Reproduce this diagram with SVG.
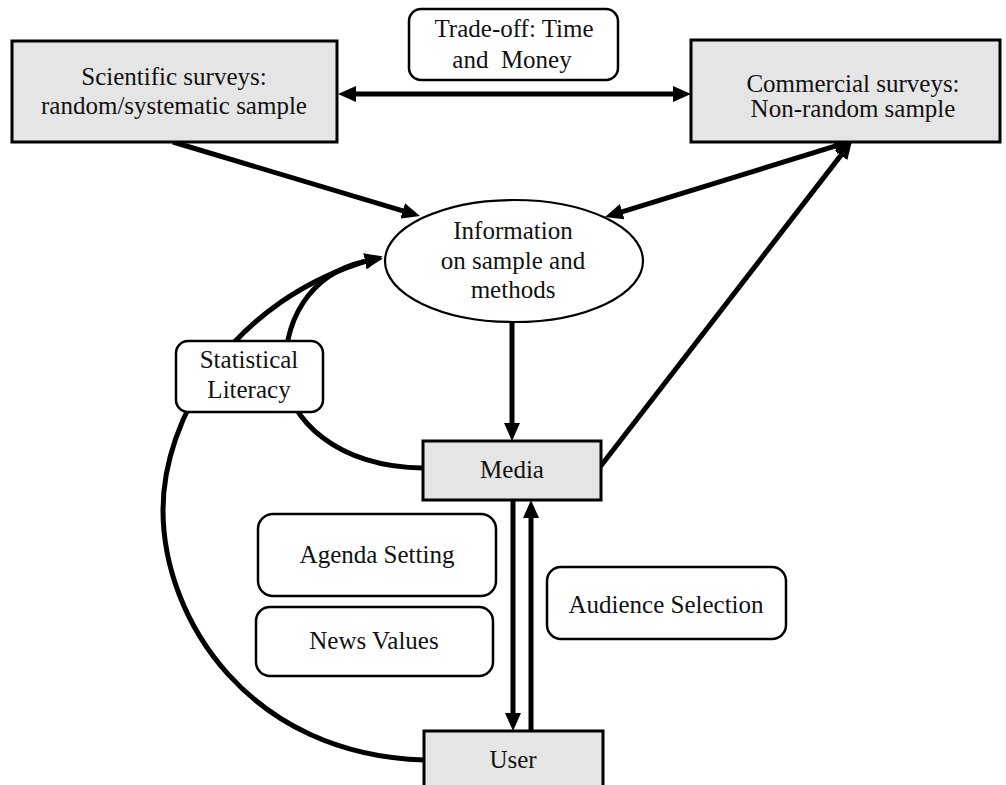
<svg xmlns="http://www.w3.org/2000/svg" width="1006" height="785" viewBox="0 0 1006 785">
<style>
.box{fill:#e5e5e5;stroke:#000;stroke-width:3}
.rbox{fill:#fff;stroke:#000;stroke-width:2.5}
.ell{fill:#fff;stroke:#000;stroke-width:2.2}
.t{font-family:"Liberation Serif","Times New Roman",serif;font-size:25px;fill:#111;text-anchor:middle}
.c{fill:none;stroke:#000;stroke-width:5}
</style>
<defs>
<marker id="ah" markerUnits="userSpaceOnUse" markerWidth="20" markerHeight="16" refX="8" refY="8" orient="auto-start-reverse" viewBox="0 0 20 16">
<path d="M0,0 L18,8 L0,16 z" fill="#000"/>
</marker>
</defs>
<rect width="1006" height="785" fill="#fff"/>
<g id="connectors">
<line class="c" x1="348" y1="94" x2="681" y2="94" marker-start="url(#ah)" marker-end="url(#ah)"/>
<line class="c" x1="173" y1="142" x2="410.4" y2="213.1" marker-end="url(#ah)"/>
<line class="c" x1="614.6" y1="214.1" x2="842.4" y2="143.9" marker-start="url(#ah)" marker-end="url(#ah)"/>
<line class="c" x1="600" y1="467" x2="845.9" y2="148.9" marker-end="url(#ah)"/>
<line class="c" x1="512" y1="322" x2="512" y2="431" marker-end="url(#ah)"/>
<line class="c" x1="513" y1="500" x2="513" y2="721" marker-end="url(#ah)"/>
<line class="c" x1="531" y1="731" x2="531" y2="510" marker-end="url(#ah)"/>
<path class="c" d="M423,468 C340,468 285,420 285,370 C285,310 318,268 373,260" marker-end="url(#ah)"/>
<path class="c" d="M424,760 C250,755 163,620 163,510 C163,420 230,300 373,259" marker-end="url(#ah)"/>
</g>
<g id="scientific">
<rect class="box" x="12" y="41" width="325" height="101"/>
<text class="t" x="174" y="85">Scientific surveys:</text>
<text class="t" x="174" y="114">random/systematic sample</text>
</g>
<g id="tradeoff">
<rect class="rbox" x="409" y="9" width="209" height="71" rx="12"/>
<text class="t" x="514" y="37">Trade-off: Time</text>
<text class="t" x="512" y="68" xml:space="preserve" style="white-space:pre">and  Money</text>
</g>
<g id="commercial">
<rect class="box" x="691" y="40" width="309" height="102"/>
<text class="t" x="853" y="92">Commercial surveys:</text>
<text class="t" x="853" y="117">Non-random sample</text>
</g>
<g id="information">
<ellipse class="ell" cx="514" cy="261" rx="129" ry="61"/>
<text class="t" x="513" y="239">Information</text>
<text class="t" x="513" y="269">on sample and</text>
<text class="t" x="513" y="298">methods</text>
</g>
<g id="statistical">
<rect class="rbox" x="176" y="341" width="147" height="71" rx="12"/>
<text class="t" x="249" y="368">Statistical</text>
<text class="t" x="249" y="398">Literacy</text>
</g>
<g id="media">
<rect class="box" x="423" y="441" width="178" height="59"/>
<text class="t" x="512" y="478">Media</text>
</g>
<g id="agenda">
<rect class="rbox" x="258" y="514" width="238" height="82" rx="15"/>
<text class="t" x="377" y="563">Agenda Setting</text>
</g>
<g id="news">
<rect class="rbox" x="256" y="607" width="237" height="69" rx="14"/>
<text class="t" x="374" y="649">News Values</text>
</g>
<g id="audience">
<rect class="rbox" x="547" y="567" width="239" height="72" rx="14"/>
<text class="t" x="666" y="613">Audience Selection</text>
</g>
<g id="user">
<rect class="box" x="424" y="731" width="179" height="62"/>
<text class="t" x="513" y="768">User</text>
</g>
</svg>
